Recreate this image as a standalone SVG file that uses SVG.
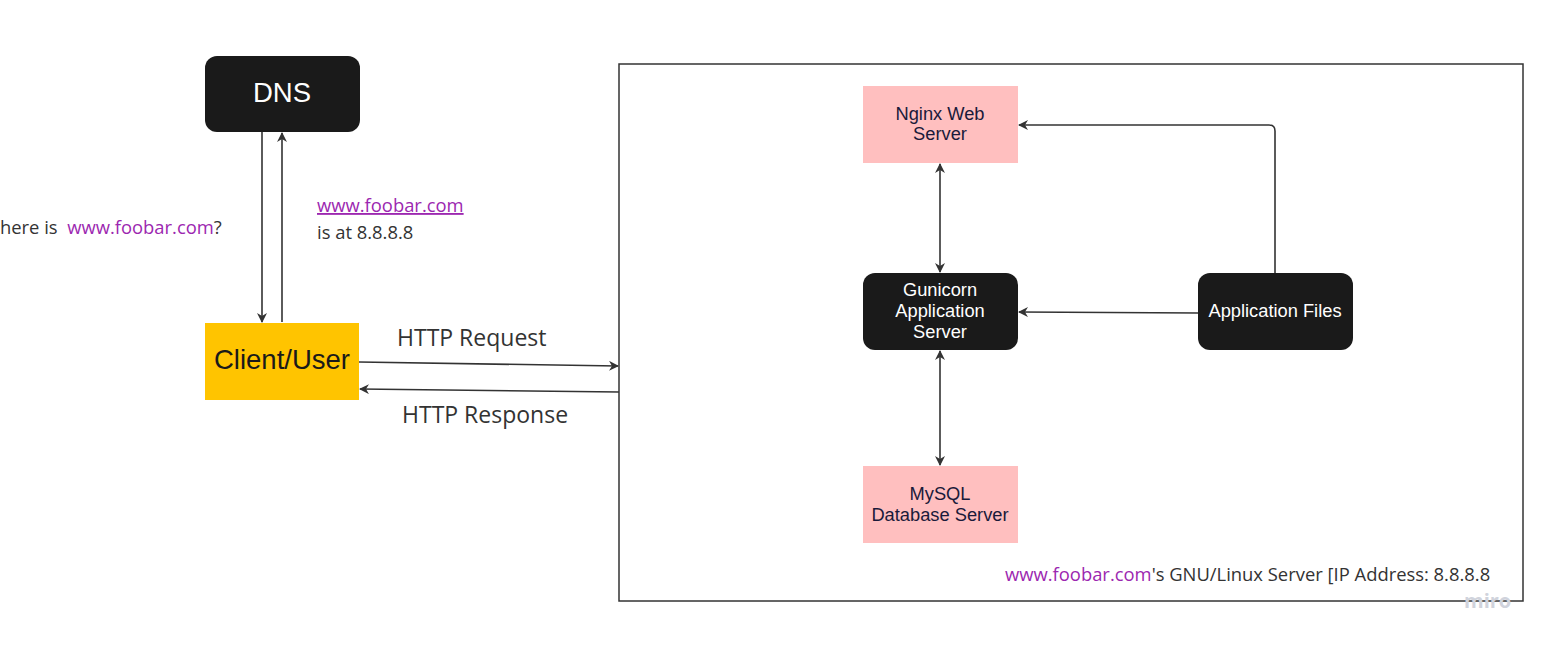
<svg xmlns="http://www.w3.org/2000/svg" width="1549" height="645" viewBox="0 0 1549 645">
<style>
.dark{fill:#1a1a1a}
.pink{fill:#ffbfbf}
.wt{fill:#ffffff;font-family:"Liberation Sans",Arial,sans-serif;font-size:18.3px;text-anchor:middle}
.nt{fill:#1a1a3a;font-family:"Liberation Sans",Arial,sans-serif;font-size:18.3px;text-anchor:middle}
.lbl{fill:#333333;font-family:"Open Sans",sans-serif;font-size:18.4px}
.big{fill:#333333;font-family:"Open Sans",sans-serif;font-size:23px}
.link{fill:#9c27b0}
.conn path{fill:none;stroke:#333333;stroke-width:1.6}
</style>
<defs>
<marker id="ah" viewBox="0 0 10 10" refX="9" refY="5" markerWidth="10" markerHeight="10" markerUnits="userSpaceOnUse" orient="auto-start-reverse">
<path d="M0,0 L10,5 L0,10 L3,5 z" fill="#333333"/>
</marker>
</defs>
<rect width="1549" height="645" fill="#ffffff"/>
<g id="server-box">
<rect x="619" y="64" width="904" height="537" fill="none" stroke="#333333" stroke-width="1.5"/>
<text x="1005" y="581" class="lbl"><tspan class="link">www.foobar.com</tspan>'s GNU/Linux Server [IP Address: 8.8.8.8</text>
</g>
<g id="dns">
<rect x="205" y="56" width="155" height="76" rx="12" class="dark"/>
<text x="282" y="102" class="wt" style="font-size:27.5px">DNS</text>
</g>
<g id="client">
<rect x="205" y="323" width="154" height="77" fill="#ffc400"/>
<text x="282" y="369" class="wt" style="font-size:27.5px;fill:#1a1a1a">Client/User</text>
</g>
<g id="nginx">
<rect x="863" y="86" width="155" height="77" class="pink"/>
<text x="940" y="120" class="nt">Nginx Web</text>
<text x="940" y="140" class="nt">Server</text>
</g>
<g id="gunicorn">
<rect x="863" y="273" width="155" height="77" rx="12" class="dark"/>
<text x="940" y="296" class="wt">Gunicorn</text>
<text x="940" y="317" class="wt">Application</text>
<text x="940" y="338" class="wt">Server</text>
</g>
<g id="appfiles">
<rect x="1198" y="273" width="155" height="77" rx="12" class="dark"/>
<text x="1275" y="317" class="wt">Application Files</text>
</g>
<g id="mysql">
<rect x="863" y="466" width="155" height="77" class="pink"/>
<text x="940" y="500" class="nt">MySQL</text>
<text x="940" y="521" class="nt">Database Server</text>
</g>
<g id="connectors" class="conn">
<path d="M262,132 L262,322" marker-end="url(#ah)"/>
<path d="M282,322 L282,133" marker-end="url(#ah)"/>
<path d="M359,362 L618,366" marker-end="url(#ah)"/>
<path d="M619,392 L360,389" marker-end="url(#ah)"/>
<path d="M940,164 L940,272" marker-start="url(#ah)" marker-end="url(#ah)"/>
<path d="M940,351 L940,465" marker-start="url(#ah)" marker-end="url(#ah)"/>
<path d="M1198,313 L1019,312" marker-end="url(#ah)"/>
<path d="M1275,273 L1275,131 Q1275,125 1269,125 L1019,125" marker-end="url(#ah)"/>
</g>
<g id="labels">
<text x="0" y="234" class="lbl" xml:space="preserve">here is  <tspan class="link">www.foobar.com</tspan>?</text>
<text x="317" y="212" class="lbl link" text-decoration="underline">www.foobar.com</text>
<text x="317" y="239" class="lbl">is at 8.8.8.8</text>
<text x="397" y="346" class="big">HTTP Request</text>
<text x="402" y="423" class="big">HTTP Response</text>
<text x="1464" y="608" style="fill:#d0d3dc;font-family:'Open Sans',sans-serif;font-size:20px;font-weight:bold">miro</text>
</g>
</svg>
